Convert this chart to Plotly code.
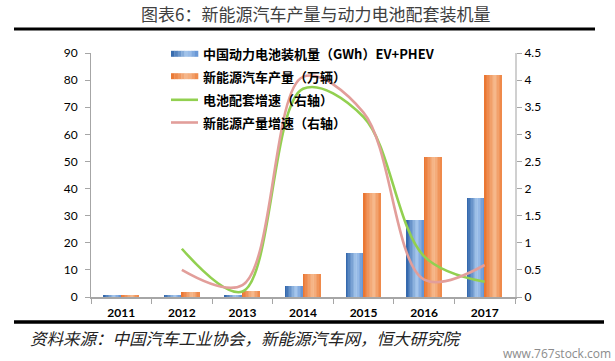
import plotly.graph_objects as go

# ---------------- data ----------------
years = ["2011", "2012", "2013", "2014", "2015", "2016", "2017"]
battery_gwh = [0.5, 0.8, 0.8, 3.9, 16.3, 28.4, 36.4]          # 中国动力电池装机量（GWh）EV+PHEV
nev_output = [0.85, 1.7, 2.1, 8.6, 38.3, 51.8, 81.9]          # 新能源汽车产量（万辆）
growth_years = ["2012", "2013", "2014", "2015", "2016", "2017"]
battery_growth = [0.89, 0.10, 3.84, 3.32, 0.75, 0.28]         # 电池配套增速（右轴）
output_growth = [0.50, 0.22, 4.06, 3.40, 0.32, 0.59]          # 新能源产量增速（右轴）
series_names = ["中国动力电池装机量（GWh）EV+PHEV", "新能源汽车产量（万辆）",
                "电池配套增速（右轴）", "新能源产量增速（右轴）"]
left_ticks = [0, 10, 20, 30, 40, 50, 60, 70, 80, 90]
right_ticks = [0, 0.5, 1, 1.5, 2, 2.5, 3, 3.5, 4, 4.5]
title_text = "图表6：新能源汽车产量与动力电池配套装机量"
source_text = "资料来源：中国汽车工业协会，新能源汽车网，恒大研究院"
watermark_text = "www.767stock.com"

# ---------------- layout geometry ----------------
W, H = 615, 361
ML, MR, MT, MB = 91, 100, 53, 64
PW, PH = W - ML - MR, H - MT - MB


def px(x):
    return (x - ML) / PW


def py(y):
    return (H - MB - y) / PH


def hex2rgb(h):
    h = h.lstrip("#")
    return [int(h[i:i + 2], 16) for i in (0, 2, 4)]


def grad(stops, t):
    for (t0, c0), (t1, c1) in zip(stops, stops[1:]):
        if t0 <= t <= t1:
            f = (t - t0) / (t1 - t0)
            a, b = hex2rgb(c0), hex2rgb(c1)
            return "rgb(%d,%d,%d)" % tuple(round(a[k] + (b[k] - a[k]) * f) for k in range(3))
    return stops[-1][1]


blue_stops = [(0, "#2c62a8"), (0.6, "#a9c9ee"), (1, "#5e8fd2")]
orange_stops = [(0, "#e9722c"), (0.6, "#f6bb90"), (1, "#ee8443")]

fig = go.Figure()

BW = 0.29
N = 12
for vals, stops, start in [(battery_gwh, blue_stops, -BW), (nev_output, orange_stops, 0.0)]:
    for i in range(N):
        t = (i + 0.5) / N
        fig.add_trace(go.Bar(
            x=years, y=vals, width=BW / N + 0.002, offset=start + i * BW / N,
            marker=dict(color=grad(stops, t), line=dict(width=0)),
            showlegend=False, hoverinfo="skip"))

fig.add_trace(go.Scatter(x=growth_years, y=battery_growth, yaxis="y2", mode="lines",
                         line=dict(color="#92d050", width=2.6, shape="spline", smoothing=1.0),
                         showlegend=False))
fig.add_trace(go.Scatter(x=growth_years, y=output_growth, yaxis="y2", mode="lines",
                         line=dict(color="#e29e9a", width=2.6, shape="spline", smoothing=1.0),
                         showlegend=False))

# ---------------- custom legend ----------------
shapes = []
annotations = []
rows_y = [53.8, 76.2, 99.8, 122.5]
sw_x0, sw_x1 = 171, 198
for k, (name, ry) in enumerate(zip(series_names, rows_y)):
    if k < 2:
        stops = blue_stops if k == 0 else orange_stops
        n = 8
        for i in range(n):
            xa = sw_x0 + (sw_x1 - sw_x0) * i / n
            xb = sw_x0 + (sw_x1 - sw_x0) * (i + 1) / n + 0.3
            shapes.append(dict(type="rect", xref="paper", yref="paper",
                               x0=px(xa), x1=px(xb), y0=py(ry - 3), y1=py(ry + 3),
                               fillcolor=grad(stops, (i + 0.5) / n), line=dict(width=0), layer="above"))
    else:
        col = "#92d050" if k == 2 else "#e29e9a"
        shapes.append(dict(type="line", xref="paper", yref="paper",
                           x0=px(sw_x0), x1=px(sw_x1), y0=py(ry), y1=py(ry),
                           line=dict(color=col, width=2.6), layer="above"))
    annotations.append(dict(text="<b>" + name + "</b>", xref="paper", yref="paper",
                            x=px(201), y=py(ry), xanchor="left", yanchor="middle", showarrow=False,
                            font=dict(family="Noto Sans CJK SC", size=13, color="#000000")))

# title, rules, source, watermark
annotations.append(dict(text=title_text, xref="paper", yref="paper", x=px(315), y=py(13),
                        xanchor="center", yanchor="middle", showarrow=False,
                        font=dict(family="Noto Sans CJK SC", size=17, color="#404040")))
shapes.append(dict(type="line", xref="paper", yref="paper", x0=px(14), x1=px(595),
                   y0=py(29), y1=py(29), line=dict(color="#000000", width=3.2)))
shapes.append(dict(type="line", xref="paper", yref="paper", x0=px(14), x1=px(604),
                   y0=py(322), y1=py(322), line=dict(color="#000000", width=3.5)))
annotations.append(dict(text=source_text, xref="paper", yref="paper", x=px(28), y=py(338),
                        xanchor="left", yanchor="middle", showarrow=False,
                        font=dict(family="Noto Sans CJK SC", size=16.5, color="#222222", style="italic")))
annotations.append(dict(text=watermark_text, xref="paper", yref="paper", x=px(613), y=py(353),
                        xanchor="right", yanchor="middle", showarrow=False,
                        font=dict(family="Open Sans", size=12, color="#8c8c8c")))

fig.update_layout(
    width=W, height=H, autosize=False,
    margin=dict(l=ML, r=MR, t=MT, b=MB),
    paper_bgcolor="white", plot_bgcolor="white",
    barmode="overlay", bargap=0,
    showlegend=False,
    xaxis=dict(type="category", categoryorder="array", categoryarray=years,
               showline=True, linecolor="#a6a6a6", linewidth=1.5,
               ticks="outside", tickson="boundaries", ticklen=5, tickcolor="#a6a6a6",
               ticklabelstandoff=4,
               tickfont=dict(family="Lato", size=12, color="#000000", weight="bold"),
               showgrid=False, zeroline=False, range=[-0.5, 6.5]),
    yaxis=dict(range=[0, 90], tickvals=left_ticks, showline=True, linecolor="#a6a6a6",
               linewidth=1, ticks="outside", ticklen=5, tickcolor="#a6a6a6",
               ticklabelstandoff=5,
               tickfont=dict(family="Lato", size=12, color="#000000"),
               showgrid=False, zeroline=False),
    yaxis2=dict(range=[0, 4.5], tickvals=right_ticks, overlaying="y", side="right",
                showline=True, linecolor="#d0d0d0", linewidth=2, ticks="outside", ticklen=5,
                tickcolor="#a6a6a6", tickfont=dict(family="Lato", size=12, color="#000000"),
                showgrid=False, zeroline=False),
    shapes=shapes, annotations=annotations,
)

fig.write_html("out.html", config={"displayModeBar": False},
               post_script="document.body.style.margin='0px';")
